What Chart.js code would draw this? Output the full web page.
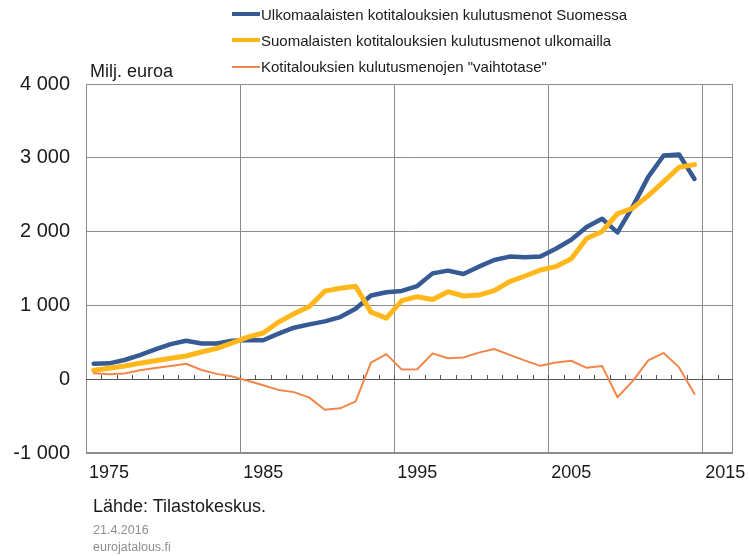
<!DOCTYPE html>
<html lang="fi">
<head>
<meta charset="utf-8">
<title>Kotitalouksien kulutusmenot</title>
<script src="https://cdn.jsdelivr.net/npm/chart.js@4.4.1/dist/chart.umd.min.js"></script>
<style>
    body { margin: 0; background: #fff; }
    #wrap { position: relative; width: 749px; height: 556px; font-family: "Liberation Sans", Arial, sans-serif; }
    #wrap canvas { position: absolute; left: 0; top: 0; }
    .txt { position: absolute; white-space: nowrap; line-height: 1; }
    .legend-line { position: absolute; left: 232px; width: 28px; }
    .legend-text { left: 261px; font-size: 15px; color: #1a1a1a; }
</style>
</head>
<body>
<div id="wrap">
    <canvas id="chart" width="749" height="556"></canvas>
    <div id="legend"></div>
    <div class="txt" style="left:90px; top:62px; font-size:18px; color:#1a1a1a;">Milj. euroa</div>
    <div class="txt" style="left:93px; top:497px; font-size:18px; color:#1a1a1a;">Lähde: Tilastokeskus.</div>
    <div class="txt" style="left:93px; top:524px; font-size:12.5px; color:#8e8e8e;">21.4.2016</div>
    <div class="txt" style="left:93px; top:541px; font-size:12.5px; color:#8e8e8e;">eurojatalous.fi</div>
</div>
<script>
// Data (milj. euroa), vuodet 1974-2013
const years = [];
for (let y = 1974; y <= 2015; y++) years.push(String(y));

const seriesNames = [
    'Ulkomaalaisten kotitalouksien kulutusmenot Suomessa',
    'Suomalaisten kotitalouksien kulutusmenot ulkomailla',
    'Kotitalouksien kulutusmenojen "vaihtotase"'
];

const foreignSpending = [
    211, 215, 260, 327, 404, 475, 520, 484, 484, 520,
    532, 527, 617, 698, 743, 783, 842, 954, 1134, 1179,
    1196, 1262, 1434, 1471, 1425, 1525, 1615, 1661, 1652, 1661,
    1768, 1889, 2061, 2174, 1989, 2342, 2741, 3031, 3044, 2713
];

const finnishSpending = [
    121, 148, 179, 215, 251, 283, 314, 368, 417, 493,
    570, 626, 774, 887, 986, 1193, 1233, 1260, 909, 828,
    1065, 1118, 1081, 1186, 1127, 1140, 1199, 1321, 1398, 1480,
    1526, 1631, 1907, 2002, 2242, 2319, 2487, 2677, 2872, 2908
];

const balance = [
    81, 67, 76, 120, 152, 179, 210, 125, 72, 36,
    -20, -81, -145, -175, -250, -415, -395, -300, 225, 340,
    130, 135, 350, 283, 294, 360, 410, 330, 252, 181,
    225, 250, 154, 180, -245, -23, 255, 356, 160, -200
];

const yTicks = [-1000, 0, 1000, 2000, 3000, 4000];

// Styles
const colors = ['#365a94', '#ffb71b', '#f1864a'];
const widths = [4.5, 5, 2];
const gridColor = '#8c8c8c';

// Build HTML legend
const legendEl = document.getElementById('legend');
const legendRows = [14, 40, 66.5];
seriesNames.forEach((name, i) => {
    const line = document.createElement('div');
    line.className = 'legend-line';
    const h = i === 2 ? 2 : 4;
    line.style.top = (legendRows[i] - h / 2) + 'px';
    line.style.height = h + 'px';
    line.style.background = colors[i];
    legendEl.appendChild(line);

    const txt = document.createElement('div');
    txt.className = 'txt legend-text';
    txt.style.top = (legendRows[i] - 7.5) + 'px';
    txt.textContent = name;
    legendEl.appendChild(txt);
});

function formatThousands(v) {
    const s = Math.abs(v).toString().replace(/\B(?=(\d{3})+(?!\d))/g, ' ');
    return (v < 0 ? '-' : '') + s;
}

// Frame, zero line tick marks
const framePlugin = {
    id: 'frame',
    beforeDatasetsDraw(chart) {
        const { ctx, chartArea, scales } = chart;
        const xs = scales.x;
        const y0 = scales.y.getPixelForValue(0);
        ctx.save();
        ctx.strokeStyle = gridColor;
        ctx.lineWidth = 1;
        ctx.strokeRect(chartArea.left + 0.5, chartArea.top + 0.5,
            chartArea.right - chartArea.left - 1, chartArea.bottom - chartArea.top - 1);

        ctx.strokeStyle = '#555';
        ctx.beginPath();
        ctx.moveTo(chartArea.left, Math.round(y0) + 0.5);
        ctx.lineTo(chartArea.right, Math.round(y0) + 0.5);
        const step = xs.getPixelForTick(1) - xs.getPixelForTick(0);
        for (let i = 1; i < years.length; i++) {
            const x = Math.round(xs.getPixelForTick(i) - step / 2) + 0.5;
            ctx.moveTo(x, Math.round(y0) - 4);
            ctx.lineTo(x, Math.round(y0) + 1);
        }
        ctx.stroke();
        ctx.restore();
    }
};

const seriesData = [foreignSpending, finnishSpending, balance];

new Chart(document.getElementById('chart'), {
    type: 'line',
    data: {
        labels: years,
        datasets: seriesData.map((d, i) => ({
            label: seriesNames[i],
            data: d,
            borderColor: colors[i],
            backgroundColor: colors[i],
            borderWidth: widths[i],
            pointRadius: 0,
            tension: 0,
            borderJoinStyle: 'round',
            borderCapStyle: 'round',
            order: 3 - i
        }))
    },
    options: {
        responsive: false,
        animation: false,
        layout: { padding: { top: 84, right: 16, bottom: 63, left: 0 } },
        plugins: {
            legend: { display: false },
            tooltip: { enabled: false }
        },
        scales: {
            x: {
                type: 'category',
                offset: true,
                grid: {
                    offset: true,
                    drawTicks: false,
                    color: ctx => (ctx.index % 10 === 0 ? gridColor : 'rgba(0,0,0,0)')
                },
                border: { display: false },
                ticks: {
                    autoSkip: false,
                    maxRotation: 0,
                    padding: 9,
                    color: '#1a1a1a',
                    font: { family: '"Liberation Sans", Arial, sans-serif', size: 18 },
                    callback: function (value, index) {
                        const lbl = years[index];
                        return Number(lbl) % 10 === 5 ? lbl : '';
                    }
                },
                afterFit(scale) {
                    scale.height = 40;
                    scale.paddingLeft = 0;
                    scale.paddingRight = 0;
                }
            },
            y: {
                min: yTicks[0],
                max: yTicks[yTicks.length - 1],
                grid: {
                    drawTicks: false,
                    color: gridColor
                },
                border: { display: false },
                afterBuildTicks(scale) {
                    scale.ticks = yTicks.map(v => ({ value: v }));
                },
                ticks: {
                    padding: 16,
                    color: '#1a1a1a',
                    font: { family: '"Liberation Sans", Arial, sans-serif', size: 20 },
                    callback: v => formatThousands(v)
                },
                afterFit(scale) {
                    scale.width = 86;
                }
            }
        }
    },
    plugins: [framePlugin]
});
</script>
</body>
</html>
